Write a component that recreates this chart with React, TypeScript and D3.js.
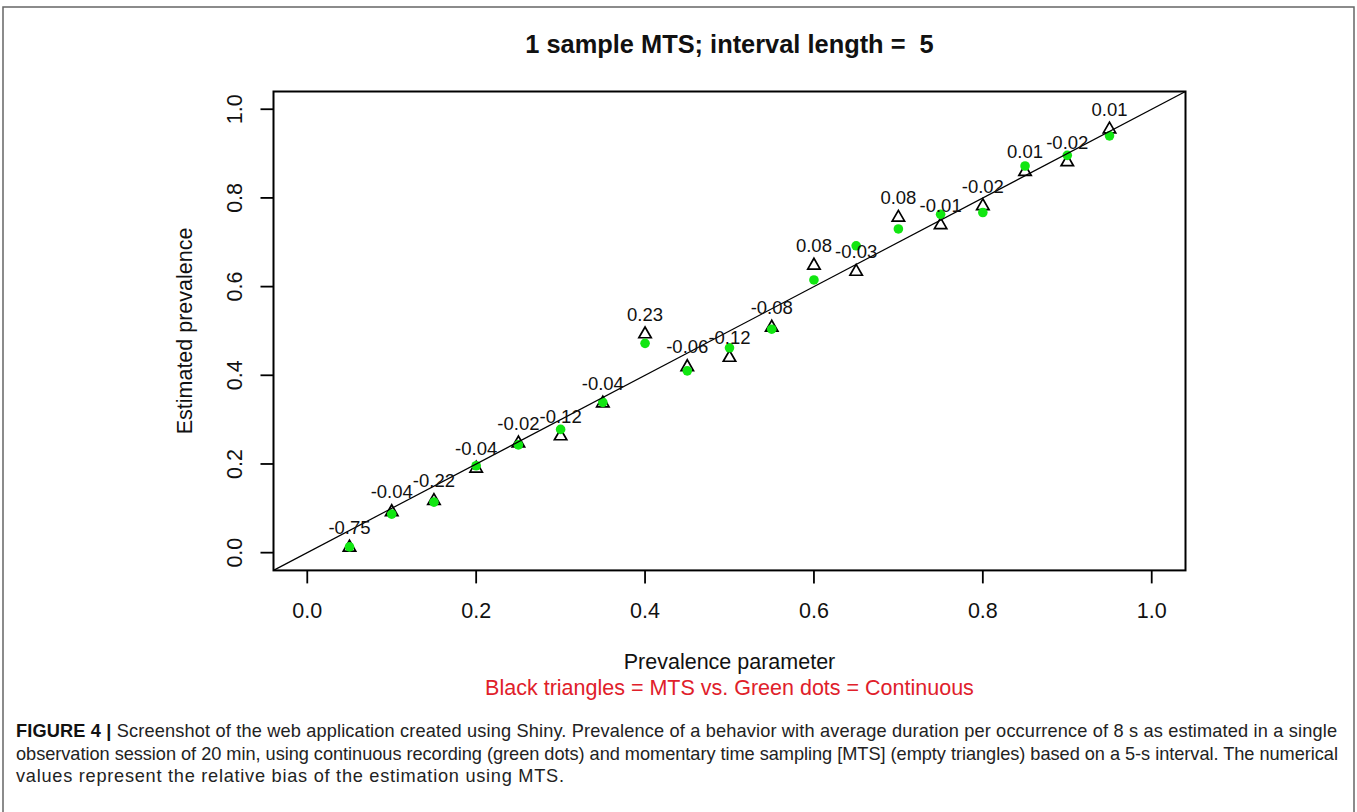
import React from "react";
import * as d3 from "d3";

const prevalence = [0.05, 0.1, 0.15, 0.2, 0.25, 0.3, 0.35, 0.4, 0.45, 0.5, 0.55, 0.6, 0.65, 0.7, 0.75, 0.8, 0.85, 0.9, 0.95];
const mtsEstimate = [0.014, 0.094, 0.119, 0.192, 0.249, 0.265, 0.339, 0.495, 0.421, 0.442, 0.51, 0.65, 0.636, 0.758, 0.741, 0.784, 0.861, 0.883, 0.957];
const continuousEstimate = [0.013, 0.087, 0.114, 0.196, 0.243, 0.278, 0.339, 0.472, 0.41, 0.462, 0.504, 0.615, 0.692, 0.73, 0.763, 0.767, 0.872, 0.896, 0.94];
const biasLabels = ["-0.75", "-0.04", "-0.22", "-0.04", "-0.02", "-0.12", "-0.04", "0.23", "-0.06", "-0.12", "-0.08", "0.08", "-0.03", "0.08", "-0.01", "-0.02", "0.01", "-0.02", "0.01"];
const tickValues = [0, 0.2, 0.4, 0.6, 0.8, 1.0];

const title = "1 sample MTS; interval length =  5";
const xTitle = "Prevalence parameter";
const yTitle = "Estimated prevalence";
const subTitle = "Black triangles = MTS vs. Green dots = Continuous";
const captionLines = [
  "Screenshot of the web application created using Shiny. Prevalence of a behavior with average duration per occurrence of 8 s as estimated in a single",
  "observation session of 20 min, using continuous recording (green dots) and momentary time sampling [MTS] (empty triangles) based on a 5-s interval. The numerical",
  "values represent the relative bias of the estimation using MTS.",
];
const captionWidths = [1321, 1322, 548];

const W = 1357;
const H = 812;
const plotLeft = 273.5;
const plotRight = 1185.5;
const plotTop = 91.5;
const plotBottom = 570.4;
const FONT = "'Liberation Sans', Arial, sans-serif";

export default function App() {
  const x = d3.scaleLinear().domain([-0.04, 1.04]).range([plotLeft, plotRight]);
  const y = d3.scaleLinear().domain([-0.04, 1.04]).range([plotBottom, plotTop]);
  const fmt = d3.format(".1f");
  const tri = (cx: number, cy: number) => {
    const s = 6.2;
    return `M${cx},${cy - s}L${cx - s},${cy + 4.6}L${cx + s},${cy + 4.6}Z`;
  };
  const cx = (plotLeft + plotRight) / 2;
  const cy = (plotTop + plotBottom) / 2;
  return (
    <svg width={W} height={H} style={{ position: "absolute", left: 0, top: 0, background: "#fff" }} fontFamily={FONT}>
      <rect x={0} y={0} width={W} height={H} fill="#fff" />
      <path d={`M3,${H + 5}V7H1354V${H + 5}`} fill="none" stroke="#666" strokeWidth={1.5} />
      <text x={cx} y={53} textAnchor="middle" fontSize={25.4} fontWeight="bold" fill="#111" style={{ whiteSpace: "pre" }}>{title}</text>
      <defs>
        <clipPath id="plotclip">
          <rect x={plotLeft} y={plotTop} width={plotRight - plotLeft} height={plotBottom - plotTop} />
        </clipPath>
      </defs>
      {prevalence.map((p, i) => (
        <path key={"t" + i} d={tri(x(p), y(mtsEstimate[i]))} fill="none" stroke="#000" strokeWidth={1.7} />
      ))}
      {prevalence.map((p, i) => (
        <circle key={"c" + i} cx={x(p)} cy={y(continuousEstimate[i])} r={4.8} fill="#11e611" />
      ))}
      <line x1={x(-0.04)} y1={y(-0.04)} x2={x(1.04)} y2={y(1.04)} stroke="#000" strokeWidth={1.2} clipPath="url(#plotclip)" />
      {prevalence.map((p, i) => (
        <text key={"l" + i} x={x(p)} y={y(mtsEstimate[i]) - 12.5} textAnchor="middle" fontSize={18.5} fill="#111">{biasLabels[i]}</text>
      ))}
      <rect x={plotLeft} y={plotTop} width={plotRight - plotLeft} height={plotBottom - plotTop} fill="none" stroke="#000" strokeWidth={2} />
      {tickValues.map((t) => (
        <g key={"xt" + t}>
          <line x1={x(t)} x2={x(t)} y1={plotBottom} y2={plotBottom + 13} stroke="#000" strokeWidth={1.8} />
          <text x={x(t)} y={618} textAnchor="middle" fontSize={21.5} fill="#111">{fmt(t)}</text>
        </g>
      ))}
      {tickValues.map((t) => (
        <g key={"yt" + t}>
          <line x1={plotLeft} x2={plotLeft - 13} y1={y(t)} y2={y(t)} stroke="#000" strokeWidth={1.8} />
          <text transform={`translate(242,${y(t)}) rotate(-90)`} textAnchor="middle" fontSize={21.5} fill="#111">{fmt(t)}</text>
        </g>
      ))}
      <text x={cx} y={669} textAnchor="middle" fontSize={21.5} fill="#111">{xTitle}</text>
      <text x={cx} y={695} textAnchor="middle" fontSize={21.5} fill="#e0202a">{subTitle}</text>
      <text transform={`translate(192,${cy}) rotate(-90)`} textAnchor="middle" fontSize={21.5} fill="#111">{yTitle}</text>
      {captionLines.map((line, i) => (
        <text key={"cap" + i} x={16} y={737 + i * 22.6} fontSize={18.2} fill="#222" textLength={captionWidths[i]} lengthAdjust="spacing">
          {i === 0 ? <tspan fontWeight="bold" fill="#111">FIGURE 4 | </tspan> : null}
          {line}
        </text>
      ))}
    </svg>
  );
}
